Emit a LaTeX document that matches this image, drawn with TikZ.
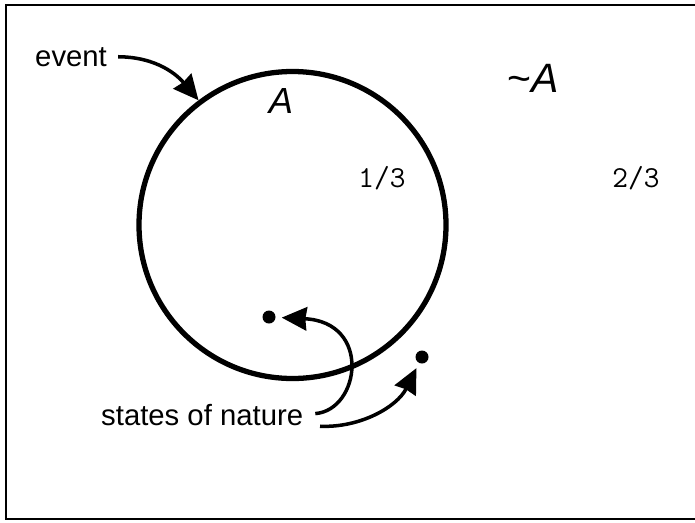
\documentclass[tikz,border=0pt]{standalone}
\usepackage{fontspec}
\setmainfont{Liberation Sans}
\usepackage{tikz}
\usetikzlibrary{arrows.meta}
\newcommand{\lblsize}{\fontsize{25pt}{30pt}\selectfont}

\begin{document}
\begin{tikzpicture}[x=0.03cm, y=-0.03cm,
  lbl/.style={inner sep=0pt, anchor=base west, font=\lblsize},
  setname/.style={inner sep=0pt, font=\fontsize{#1}{36pt}\selectfont},
  prob/.style={inner sep=0pt, anchor=base, font=\fontsize{26pt}{30pt}\selectfont\ttfamily},
  st/.style={circle, fill, inner sep=0pt, minimum size=0.39cm},
  arr/.style={line width=3pt, -{Stealth[length=0.75cm, width=0.7cm, inset=0.04cm]}}]
\useasboundingbox (0,0) rectangle (695,522);
\draw[line width=2.5pt] (705,5) -- (6,5) -- (6,519) -- (705,519);
% the event and its complement
\node[circle, draw, line width=4.5pt, minimum size=9.21cm, inner sep=0pt] (circA) at (292.5,225) {};
\node[setname=31pt, anchor=base] (nameA) at (281,113) {\itshape A};
\node[setname=35pt, anchor=base west] (notA) at (507,92) {\textasciitilde\textit{A}};
\node[prob] (pA) at (382,187) {1/3};
\node[prob] (pnotA) at (636,187) {2/3};
% states
\node[st] (s1) at (269,317) {};
\node[st] (s2) at (422,357) {};
\node[lbl] (event) at (35,66) {event};
\node[lbl] (states) at (101,425) {states of nature};
\draw[arr, shorten <=0.33cm] (event.east) .. controls (158,57) and (178,76) .. (circA.127);
\draw[arr, shorten <=0.36cm, shorten >=0.18cm] (states.east) .. controls (360,410) and (372,322) .. (s1);
\draw[arr, shorten <=0.5cm, shorten >=0.17cm] (states.south east) .. controls (360,428) and (397,407) .. (s2);
\end{tikzpicture}
\end{document}
